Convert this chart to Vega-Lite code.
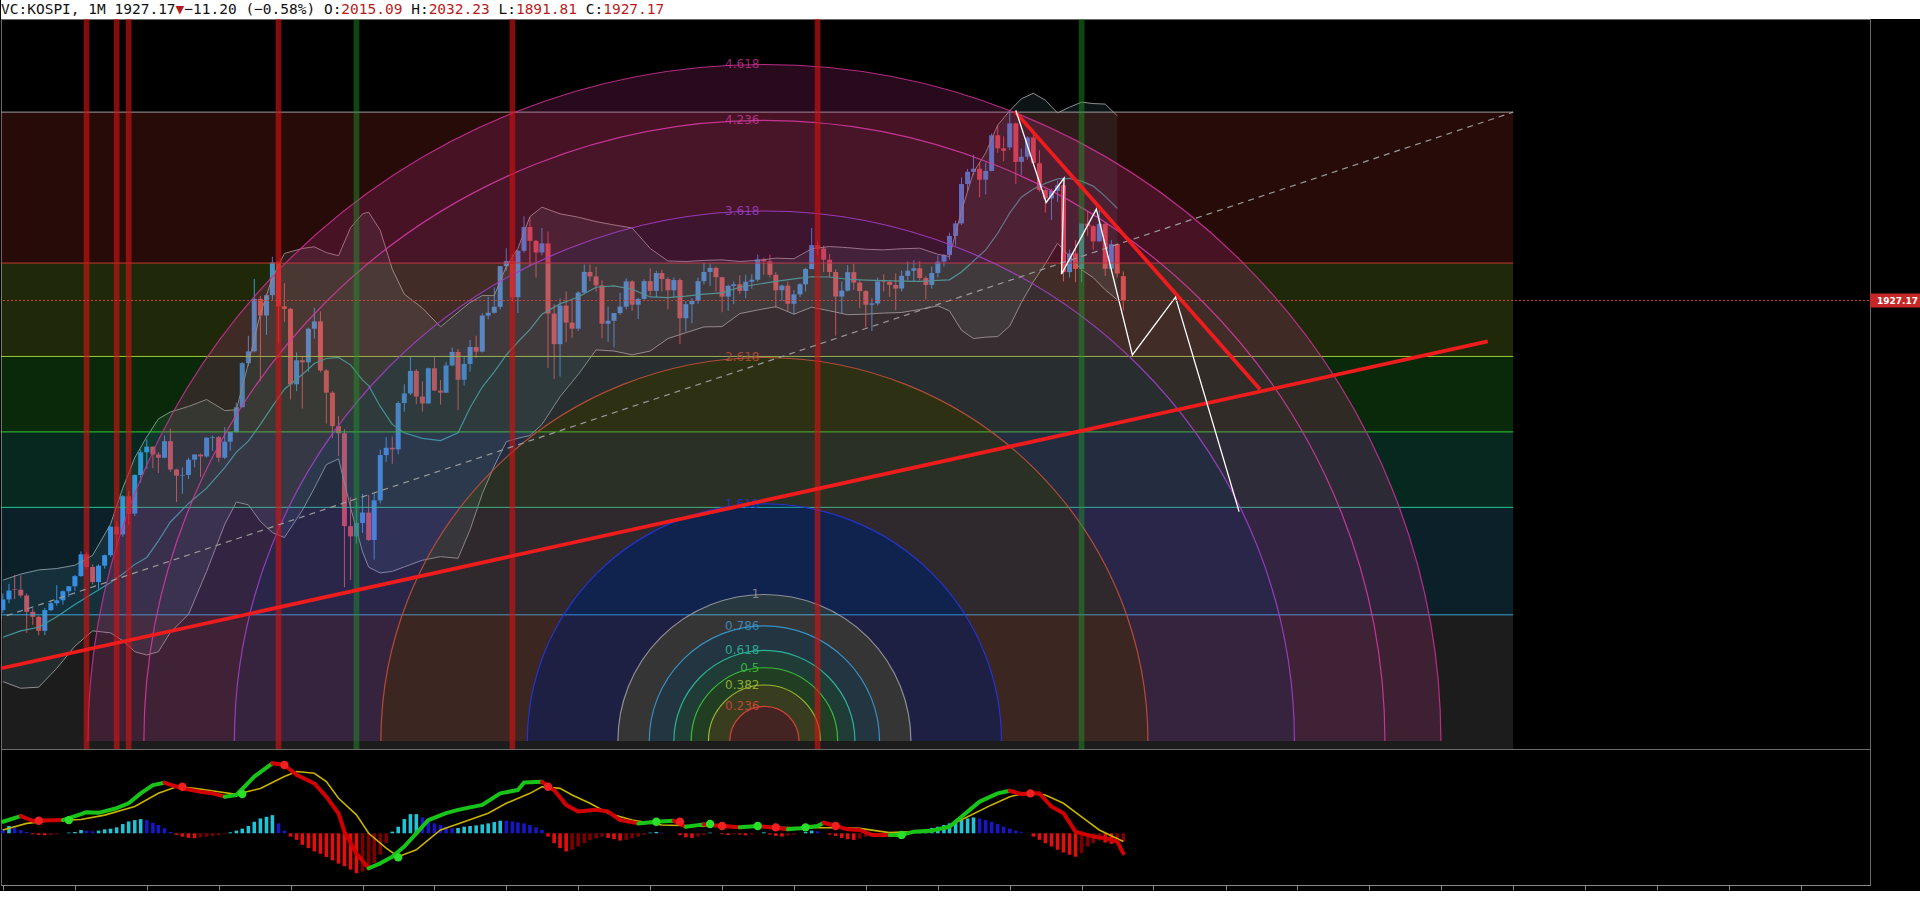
{
  "$schema": "https://vega.github.io/schema/vega-lite/v6.json",
  "background": "#000000",
  "padding": 0,
  "spacing": 0,
  "bounds": "flush",
  "config": {"view": {"stroke": null}, "font": "DejaVu Sans"},
  "datasets": {
    "head": [
      {"t": "VC:KOSPI, 1M 1927.17", "i": 0, "ink": "k"},
      {"t": "▼", "i": 20, "ink": "r"},
      {"t": "−11.20 (−0.58%) O:", "i": 21, "ink": "k"},
      {"t": "2015.09", "i": 39, "ink": "r"},
      {"t": "H:", "i": 47, "ink": "k"},
      {"t": "2032.23", "i": 49, "ink": "r"},
      {"t": "L:", "i": 57, "ink": "k"},
      {"t": "1891.81", "i": 59, "ink": "r"},
      {"t": "C:", "i": 67, "ink": "k"},
      {"t": "1927.17", "i": 69, "ink": "r"}
    ],
    "ohlc": [
      {"d":"2004-01","o":810.7,"h":870,"l":800,"c":848.5},
      {"d":"2004-02","o":848.5,"h":905,"l":835,"c":880.5},
      {"d":"2004-03","o":885,"h":937,"l":850,"c":883.5},
      {"d":"2004-04","o":883.5,"h":936,"l":855,"c":862.8},
      {"d":"2004-05","o":862.8,"h":870,"l":728,"c":803.8},
      {"d":"2004-06","o":803.8,"h":816,"l":757,"c":785.8},
      {"d":"2004-07","o":785.8,"h":790,"l":719,"c":735.3},
      {"d":"2004-08","o":735.3,"h":818,"l":720,"c":810},
      {"d":"2004-09","o":810,"h":845,"l":806,"c":835.1},
      {"d":"2004-10","o":835.1,"h":900,"l":826,"c":845.2},
      {"d":"2004-11","o":845.2,"h":881,"l":830,"c":878.1},
      {"d":"2004-12","o":878.1,"h":896,"l":857,"c":895.9},
      {"d":"2005-01","o":895.9,"h":937,"l":880,"c":932.7},
      {"d":"2005-02","o":932.7,"h":1022,"l":930,"c":1011.4},
      {"d":"2005-03","o":1011.4,"h":1020,"l":960,"c":965.7},
      {"d":"2005-04","o":965.7,"h":975,"l":903,"c":911.3},
      {"d":"2005-05","o":911.3,"h":975,"l":887,"c":970.2},
      {"d":"2005-06","o":970.2,"h":1010,"l":960,"c":1008.2},
      {"d":"2005-07","o":1008.2,"h":1112,"l":1002,"c":1111.3},
      {"d":"2005-08","o":1111.3,"h":1130,"l":1040,"c":1083.3},
      {"d":"2005-09","o":1083.3,"h":1225,"l":1075,"c":1221},
      {"d":"2005-10","o":1221,"h":1240,"l":1118,"c":1158.1},
      {"d":"2005-11","o":1158.1,"h":1300,"l":1150,"c":1297.4},
      {"d":"2005-12","o":1297.4,"h":1390,"l":1270,"c":1379.4},
      {"d":"2006-01","o":1379.4,"h":1426,"l":1320,"c":1399.8},
      {"d":"2006-02","o":1399.8,"h":1400,"l":1322,"c":1371.6},
      {"d":"2006-03","o":1371.6,"h":1380,"l":1305,"c":1359.6},
      {"d":"2006-04","o":1359.6,"h":1440,"l":1358,"c":1419.7},
      {"d":"2006-05","o":1419.7,"h":1465,"l":1309,"c":1317.7},
      {"d":"2006-06","o":1317.7,"h":1320,"l":1200,"c":1295.2},
      {"d":"2006-07","o":1295.2,"h":1325,"l":1230,"c":1297.8},
      {"d":"2006-08","o":1297.8,"h":1360,"l":1283,"c":1352.7},
      {"d":"2006-09","o":1352.7,"h":1373,"l":1325,"c":1371.4},
      {"d":"2006-10","o":1371.4,"h":1375,"l":1290,"c":1364.6},
      {"d":"2006-11","o":1364.6,"h":1433,"l":1360,"c":1432.2},
      {"d":"2006-12","o":1432.2,"h":1440,"l":1385,"c":1434.5},
      {"d":"2007-01","o":1434.5,"h":1438,"l":1345,"c":1360.2},
      {"d":"2007-02","o":1360.2,"h":1470,"l":1355,"c":1417.9},
      {"d":"2007-03","o":1417.9,"h":1453,"l":1385,"c":1452.6},
      {"d":"2007-04","o":1452.6,"h":1558,"l":1450,"c":1542.2},
      {"d":"2007-05","o":1542.2,"h":1705,"l":1542,"c":1700.9},
      {"d":"2007-06","o":1700.9,"h":1800,"l":1690,"c":1743.6},
      {"d":"2007-07","o":1743.6,"h":2005,"l":1740,"c":1933.3},
      {"d":"2007-08","o":1933.3,"h":1944,"l":1638,"c":1873.2},
      {"d":"2007-09","o":1873.2,"h":1950,"l":1803,"c":1946.5},
      {"d":"2007-10","o":1946.5,"h":2085,"l":1930,"c":2064.9},
      {"d":"2007-11","o":2064.9,"h":2070,"l":1772,"c":1906},
      {"d":"2007-12","o":1906,"h":1990,"l":1850,"c":1897.1},
      {"d":"2008-01","o":1897.1,"h":1900,"l":1570,"c":1624.7},
      {"d":"2008-02","o":1624.7,"h":1740,"l":1600,"c":1711.6},
      {"d":"2008-03","o":1711.6,"h":1727,"l":1537,"c":1704},
      {"d":"2008-04","o":1704,"h":1830,"l":1670,"c":1825.5},
      {"d":"2008-05","o":1825.5,"h":1901,"l":1790,"c":1852},
      {"d":"2008-06","o":1852,"h":1888,"l":1668,"c":1674.9},
      {"d":"2008-07","o":1674.9,"h":1680,"l":1483,"c":1594.7},
      {"d":"2008-08","o":1594.7,"h":1600,"l":1431,"c":1474.2},
      {"d":"2008-09","o":1474.2,"h":1510,"l":1366,"c":1448.1},
      {"d":"2008-10","o":1448.1,"h":1463,"l":892,"c":1113.1},
      {"d":"2008-11","o":1113.1,"h":1217,"l":919,"c":1076.1},
      {"d":"2008-12","o":1076.1,"h":1203,"l":1050,"c":1124.5},
      {"d":"2009-01","o":1124.5,"h":1229,"l":1088,"c":1162.1},
      {"d":"2009-02","o":1162.1,"h":1225,"l":1060,"c":1063},
      {"d":"2009-03","o":1063,"h":1231,"l":992,"c":1206.3},
      {"d":"2009-04","o":1206.3,"h":1389,"l":1195,"c":1369.4},
      {"d":"2009-05","o":1369.4,"h":1434,"l":1345,"c":1395.9},
      {"d":"2009-06","o":1395.9,"h":1436,"l":1338,"c":1390.1},
      {"d":"2009-07","o":1390.1,"h":1564,"l":1373,"c":1557.3},
      {"d":"2009-08","o":1557.3,"h":1625,"l":1526,"c":1591.9},
      {"d":"2009-09","o":1591.9,"h":1723,"l":1586,"c":1673.1},
      {"d":"2009-10","o":1673.1,"h":1680,"l":1553,"c":1580.7},
      {"d":"2009-11","o":1580.7,"h":1635,"l":1526,"c":1555.6},
      {"d":"2009-12","o":1555.6,"h":1685,"l":1555,"c":1682.8},
      {"d":"2010-01","o":1682.8,"h":1723,"l":1600,"c":1602.4},
      {"d":"2010-02","o":1602.4,"h":1640,"l":1552,"c":1594.6},
      {"d":"2010-03","o":1594.6,"h":1705,"l":1594,"c":1692.9},
      {"d":"2010-04","o":1692.9,"h":1757,"l":1690,"c":1741.6},
      {"d":"2010-05","o":1741.6,"h":1752,"l":1532,"c":1641.3},
      {"d":"2010-06","o":1641.3,"h":1728,"l":1620,"c":1698.3},
      {"d":"2010-07","o":1698.3,"h":1785,"l":1670,"c":1759.3},
      {"d":"2010-08","o":1759.3,"h":1800,"l":1720,"c":1742.8},
      {"d":"2010-09","o":1742.8,"h":1880,"l":1740,"c":1872.8},
      {"d":"2010-10","o":1872.8,"h":1940,"l":1860,"c":1883},
      {"d":"2010-11","o":1883,"h":1975,"l":1880,"c":1904.6},
      {"d":"2010-12","o":1904.6,"h":2052,"l":1895,"c":2051},
      {"d":"2011-01","o":2051,"h":2116,"l":2035,"c":2069.7},
      {"d":"2011-02","o":2069.7,"h":2095,"l":1923,"c":1939.3},
      {"d":"2011-03","o":1939.3,"h":2110,"l":1882,"c":2106.7},
      {"d":"2011-04","o":2106.7,"h":2231,"l":2100,"c":2192.4},
      {"d":"2011-05","o":2192.4,"h":2229,"l":2050,"c":2142.5},
      {"d":"2011-06","o":2142.5,"h":2146,"l":2010,"c":2100.7},
      {"d":"2011-07","o":2100.7,"h":2189,"l":2090,"c":2133.2},
      {"d":"2011-08","o":2133.2,"h":2176,"l":1684,"c":1880.1},
      {"d":"2011-09","o":1880.1,"h":1914,"l":1644,"c":1769.7},
      {"d":"2011-10","o":1769.7,"h":1935,"l":1653,"c":1909},
      {"d":"2011-11","o":1909,"h":1960,"l":1777,"c":1847.5},
      {"d":"2011-12","o":1847.5,"h":1930,"l":1793,"c":1825.7},
      {"d":"2012-01","o":1825.7,"h":1960,"l":1817,"c":1955.8},
      {"d":"2012-02","o":1955.8,"h":2057,"l":1950,"c":2030.3},
      {"d":"2012-03","o":2030.3,"h":2057,"l":1997,"c":2014},
      {"d":"2012-04","o":2014,"h":2049,"l":1960,"c":1982},
      {"d":"2012-05","o":1982,"h":2000,"l":1791,"c":1843.5},
      {"d":"2012-06","o":1843.5,"h":1905,"l":1778,"c":1854},
      {"d":"2012-07","o":1854,"h":1880,"l":1758,"c":1882},
      {"d":"2012-08","o":1882,"h":1955,"l":1875,"c":1905.1},
      {"d":"2012-09","o":1905.1,"h":2007,"l":1895,"c":1996.2},
      {"d":"2012-10","o":1996.2,"h":2000,"l":1890,"c":1912.1},
      {"d":"2012-11","o":1912.1,"h":1937,"l":1860,"c":1932.9},
      {"d":"2012-12","o":1932.9,"h":2004,"l":1930,"c":1997.1},
      {"d":"2013-01","o":1997.1,"h":2043,"l":1945,"c":1961.9},
      {"d":"2013-02","o":1961.9,"h":2035,"l":1940,"c":2026.5},
      {"d":"2013-03","o":2026.5,"h":2037,"l":1960,"c":2004.9},
      {"d":"2013-04","o":2004.9,"h":2011,"l":1895,"c":1964},
      {"d":"2013-05","o":1964,"h":2010,"l":1940,"c":2001.1},
      {"d":"2013-06","o":2001.1,"h":2008,"l":1770,"c":1863.3},
      {"d":"2013-07","o":1863.3,"h":1925,"l":1815,"c":1914},
      {"d":"2013-08","o":1914,"h":1935,"l":1845,"c":1926.4},
      {"d":"2013-09","o":1926.4,"h":2010,"l":1915,"c":1997},
      {"d":"2013-10","o":1997,"h":2063,"l":1985,"c":2030.1},
      {"d":"2013-11","o":2030.1,"h":2060,"l":1980,"c":2044.9},
      {"d":"2013-12","o":2044.9,"h":2050,"l":1960,"c":2011.3},
      {"d":"2014-01","o":2011.3,"h":2012,"l":1885,"c":1941.2},
      {"d":"2014-02","o":1941.2,"h":1985,"l":1890,"c":1980},
      {"d":"2014-03","o":1980,"h":1996,"l":1914,"c":1985.6},
      {"d":"2014-04","o":1985.6,"h":2018,"l":1950,"c":1961.8},
      {"d":"2014-05","o":1961.8,"h":2020,"l":1935,"c":1995},
      {"d":"2014-06","o":1995,"h":2022,"l":1970,"c":2002.2},
      {"d":"2014-07","o":2002.2,"h":2093,"l":1995,"c":2076.1},
      {"d":"2014-08","o":2076.1,"h":2082,"l":2020,"c":2068.5},
      {"d":"2014-09","o":2068.5,"h":2093,"l":2010,"c":2020.1},
      {"d":"2014-10","o":2020.1,"h":2030,"l":1900,"c":1964.4},
      {"d":"2014-11","o":1964.4,"h":1985,"l":1925,"c":1980.8},
      {"d":"2014-12","o":1980.8,"h":1995,"l":1890,"c":1915.6},
      {"d":"2015-01","o":1915.6,"h":1965,"l":1876,"c":1949.3},
      {"d":"2015-02","o":1949.3,"h":1990,"l":1940,"c":1985.8},
      {"d":"2015-03","o":1985.8,"h":2045,"l":1960,"c":2041},
      {"d":"2015-04","o":2041,"h":2189,"l":2040,"c":2127.2},
      {"d":"2015-05","o":2127.2,"h":2141,"l":2090,"c":2114.8},
      {"d":"2015-06","o":2114.8,"h":2125,"l":2030,"c":2074.2},
      {"d":"2015-07","o":2074.2,"h":2095,"l":2010,"c":2030.2},
      {"d":"2015-08","o":2030.2,"h":2040,"l":1800,"c":1941.5},
      {"d":"2015-09","o":1941.5,"h":1996,"l":1880,"c":1962.8},
      {"d":"2015-10","o":1962.8,"h":2055,"l":1960,"c":2029.5},
      {"d":"2015-11","o":2029.5,"h":2060,"l":1965,"c":1992},
      {"d":"2015-12","o":1992,"h":2002,"l":1900,"c":1961.3},
      {"d":"2016-01","o":1961.3,"h":1965,"l":1830,"c":1912.1},
      {"d":"2016-02","o":1912.1,"h":1935,"l":1817,"c":1916.7},
      {"d":"2016-03","o":1916.7,"h":2010,"l":1910,"c":1995.9},
      {"d":"2016-04","o":1995.9,"h":2022,"l":1960,"c":1994.2},
      {"d":"2016-05","o":1994.2,"h":2000,"l":1940,"c":1983.4},
      {"d":"2016-06","o":1983.4,"h":2025,"l":1892,"c":1970.4},
      {"d":"2016-07","o":1970.4,"h":2035,"l":1960,"c":2016.2},
      {"d":"2016-08","o":2016.2,"h":2068,"l":2000,"c":2034.7},
      {"d":"2016-09","o":2034.7,"h":2073,"l":1995,"c":2043.6},
      {"d":"2016-10","o":2043.6,"h":2070,"l":2000,"c":2008.2},
      {"d":"2016-11","o":2008.2,"h":2015,"l":1931,"c":1983.5},
      {"d":"2016-12","o":1983.5,"h":2050,"l":1970,"c":2026.5},
      {"d":"2017-01","o":2026.5,"h":2090,"l":2010,"c":2067.6},
      {"d":"2017-02","o":2067.6,"h":2095,"l":2050,"c":2091.6},
      {"d":"2017-03","o":2091.6,"h":2172,"l":2075,"c":2160.2},
      {"d":"2017-04","o":2160.2,"h":2215,"l":2125,"c":2205.4},
      {"d":"2017-05","o":2205.4,"h":2371,"l":2200,"c":2347.4},
      {"d":"2017-06","o":2347.4,"h":2402,"l":2320,"c":2391.8},
      {"d":"2017-07","o":2391.8,"h":2453,"l":2380,"c":2402.7},
      {"d":"2017-08","o":2402.7,"h":2425,"l":2300,"c":2363.2},
      {"d":"2017-09","o":2363.2,"h":2425,"l":2310,"c":2394.5},
      {"d":"2017-10","o":2394.5,"h":2530,"l":2394,"c":2523.4},
      {"d":"2017-11","o":2523.4,"h":2561,"l":2460,"c":2476.4},
      {"d":"2017-12","o":2476.4,"h":2520,"l":2430,"c":2467.5},
      {"d":"2018-01","o":2479.7,"h":2607.1,"l":2470,"c":2566.5},
      {"d":"2018-02","o":2566.5,"h":2570,"l":2347,"c":2427.4},
      {"d":"2018-03","o":2427.4,"h":2476,"l":2380,"c":2445.9},
      {"d":"2018-04","o":2445.9,"h":2520,"l":2435,"c":2515.4},
      {"d":"2018-05","o":2515.4,"h":2532,"l":2423,"c":2423},
      {"d":"2018-06","o":2423,"h":2470,"l":2320,"c":2326.1},
      {"d":"2018-07","o":2326.1,"h":2330,"l":2245,"c":2295.3},
      {"d":"2018-08","o":2295.3,"h":2330,"l":2218,"c":2322.9},
      {"d":"2018-09","o":2322.9,"h":2360,"l":2283,"c":2343.1},
      {"d":"2018-10","o":2343.1,"h":2350,"l":1996,"c":2029.7},
      {"d":"2018-11","o":2029.7,"h":2111,"l":2010,"c":2096.9},
      {"d":"2018-12","o":2096.9,"h":2145,"l":1993,"c":2041},
      {"d":"2019-01","o":2041,"h":2205,"l":1993,"c":2204.9},
      {"d":"2019-02","o":2204.9,"h":2250,"l":2160,"c":2195.4},
      {"d":"2019-03","o":2195.4,"h":2200,"l":2110,"c":2140.7},
      {"d":"2019-04","o":2140.7,"h":2253,"l":2140,"c":2203.6},
      {"d":"2019-05","o":2203.6,"h":2210,"l":2016,"c":2041.7},
      {"d":"2019-06","o":2041.7,"h":2145,"l":2030,"c":2130.6},
      {"d":"2019-07","o":2130.6,"h":2135,"l":2011,"c":2024.6},
      {"d":"2019-08","o":2015.1,"h":2032.2,"l":1891.8,"c":1927.2}
    ],
    "bb": [
      {"d":"2004-01","up":918,"mid":712,"lo":552},
      {"d":"2004-04","up":940,"mid":735,"lo":528},
      {"d":"2004-07","up":955,"mid":748,"lo":532},
      {"d":"2004-10","up":960,"mid":786,"lo":600},
      {"d":"2005-01","up":972,"mid":830,"lo":680},
      {"d":"2005-04","up":1008,"mid":870,"lo":735},
      {"d":"2005-07","up":1120,"mid":910,"lo":728},
      {"d":"2005-09","up":1250,"mid":940,"lo":700},
      {"d":"2005-11","up":1360,"mid":975,"lo":660},
      {"d":"2006-01","up":1435,"mid":1000,"lo":648},
      {"d":"2006-03","up":1500,"mid":1060,"lo":660},
      {"d":"2006-05","up":1525,"mid":1128,"lo":730},
      {"d":"2006-08","up":1545,"mid":1195,"lo":795},
      {"d":"2006-11","up":1570,"mid":1250,"lo":950},
      {"d":"2007-02","up":1530,"mid":1324,"lo":1120},
      {"d":"2007-04","up":1533,"mid":1380,"lo":1200},
      {"d":"2007-06","up":1700,"mid":1420,"lo":1190},
      {"d":"2007-08","up":1880,"mid":1480,"lo":1130},
      {"d":"2007-10","up":2010,"mid":1545,"lo":1090},
      {"d":"2007-12","up":2097,"mid":1607,"lo":1072},
      {"d":"2008-03","up":2115,"mid":1660,"lo":1170},
      {"d":"2008-05","up":2121,"mid":1700,"lo":1250},
      {"d":"2008-07","up":2100,"mid":1718,"lo":1335},
      {"d":"2008-09","up":2089,"mid":1722,"lo":1356},
      {"d":"2008-11","up":2190,"mid":1695,"lo":1180},
      {"d":"2009-01","up":2240,"mid":1640,"lo":1020},
      {"d":"2009-02","up":2246,"mid":1620,"lo":965},
      {"d":"2009-04","up":2180,"mid":1545,"lo":944},
      {"d":"2009-06","up":2040,"mid":1480,"lo":950},
      {"d":"2009-08","up":1950,"mid":1450,"lo":966},
      {"d":"2009-11","up":1900,"mid":1430,"lo":990},
      {"d":"2010-02","up":1832,"mid":1422,"lo":1003},
      {"d":"2010-05","up":1885,"mid":1450,"lo":997},
      {"d":"2010-07","up":1920,"mid":1540,"lo":1100},
      {"d":"2010-09","up":1945,"mid":1615,"lo":1230},
      {"d":"2010-11","up":1945,"mid":1670,"lo":1330},
      {"d":"2011-01","up":2050,"mid":1731,"lo":1418},
      {"d":"2011-03","up":2115,"mid":1778,"lo":1430},
      {"d":"2011-05","up":2230,"mid":1822,"lo":1440},
      {"d":"2011-07","up":2264,"mid":1878,"lo":1480},
      {"d":"2011-10","up":2240,"mid":1915,"lo":1580},
      {"d":"2012-01","up":2228,"mid":1940,"lo":1660},
      {"d":"2012-04","up":2212,"mid":1975,"lo":1749},
      {"d":"2012-07","up":2200,"mid":1980,"lo":1745},
      {"d":"2012-10","up":2189,"mid":1968,"lo":1731},
      {"d":"2013-01","up":2115,"mid":1940,"lo":1745},
      {"d":"2013-04","up":2070,"mid":1938,"lo":1790},
      {"d":"2013-07","up":2068,"mid":1943,"lo":1811},
      {"d":"2013-10","up":2072,"mid":1950,"lo":1832},
      {"d":"2014-01","up":2074,"mid":1955,"lo":1833},
      {"d":"2014-04","up":2068,"mid":1975,"lo":1880},
      {"d":"2014-07","up":2072,"mid":1986,"lo":1893},
      {"d":"2014-10","up":2080,"mid":1996,"lo":1905},
      {"d":"2015-01","up":2078,"mid":2005,"lo":1878},
      {"d":"2015-04","up":2114,"mid":2013,"lo":1903},
      {"d":"2015-07","up":2122,"mid":2012,"lo":1890},
      {"d":"2015-10","up":2118,"mid":2004,"lo":1876},
      {"d":"2016-01","up":2112,"mid":2001,"lo":1878},
      {"d":"2016-04","up":2110,"mid":1999,"lo":1882},
      {"d":"2016-07","up":2114,"mid":1997,"lo":1884},
      {"d":"2016-10","up":2116,"mid":1996,"lo":1895},
      {"d":"2017-01","up":2094,"mid":2000,"lo":1908},
      {"d":"2017-03","up":2086,"mid":2002,"lo":1890},
      {"d":"2017-05","up":2250,"mid":2030,"lo":1820},
      {"d":"2017-07","up":2390,"mid":2070,"lo":1790},
      {"d":"2017-09","up":2460,"mid":2110,"lo":1795},
      {"d":"2017-11","up":2560,"mid":2170,"lo":1797},
      {"d":"2018-01","up":2612,"mid":2243,"lo":1835},
      {"d":"2018-03","up":2655,"mid":2300,"lo":1920},
      {"d":"2018-05","up":2675,"mid":2330,"lo":1995},
      {"d":"2018-07","up":2650,"mid":2350,"lo":2060},
      {"d":"2018-09","up":2604,"mid":2366,"lo":2134},
      {"d":"2018-11","up":2625,"mid":2368,"lo":2085},
      {"d":"2019-01","up":2643,"mid":2358,"lo":2038},
      {"d":"2019-03","up":2638,"mid":2340,"lo":2010},
      {"d":"2019-05","up":2636,"mid":2303,"lo":1966},
      {"d":"2019-07","up":2594,"mid":2260,"lo":1930}
    ],
    "fib": [
      {"d":"2003-06","d2":"2025-01","lvl":"0","p0":2607.1,"p":2607.1},
      {"d":"2003-06","d2":"2025-01","lvl":"0.236","p0":2607.1,"p":2062.4},
      {"d":"2003-06","d2":"2025-01","lvl":"0.382","p0":2062.4,"p":1725.4},
      {"d":"2003-06","d2":"2025-01","lvl":"0.5","p0":1725.4,"p":1453.1},
      {"d":"2003-06","d2":"2025-01","lvl":"0.618","p0":1453.1,"p":1180.8},
      {"d":"2003-06","d2":"2025-01","lvl":"0.786","p0":1180.8,"p":793},
      {"d":"2003-06","d2":"2025-01","lvl":"1","p0":793,"p":299.1}
    ],
    "arcs": [
      {"d":"2014-08-04","p":337.7,"lvl":"0.236","r":0.236,"r0":0},
      {"d":"2014-08-04","p":337.7,"lvl":"0.382","r":0.382,"r0":0.236},
      {"d":"2014-08-04","p":337.7,"lvl":"0.5","r":0.5,"r0":0.382},
      {"d":"2014-08-04","p":337.7,"lvl":"0.618","r":0.618,"r0":0.5},
      {"d":"2014-08-04","p":337.7,"lvl":"0.786","r":0.786,"r0":0.618},
      {"d":"2014-08-04","p":337.7,"lvl":"1","r":1,"r0":0.786},
      {"d":"2014-08-04","p":337.7,"lvl":"1.618","r":1.618,"r0":1},
      {"d":"2014-08-04","p":337.7,"lvl":"2.618","r":2.618,"r0":1.618},
      {"d":"2014-08-04","p":337.7,"lvl":"3.618","r":3.618,"r0":2.618},
      {"d":"2014-08-04","p":337.7,"lvl":"4.236","r":4.236,"r0":3.618},
      {"d":"2014-08-04","p":337.7,"lvl":"4.618","r":4.618,"r0":4.236}
    ],
    "bands": [
      {"d":"2005-03","k":"r"},{"d":"2005-08","k":"r"},{"d":"2005-10","k":"r"},
      {"d":"2007-11","k":"r"},{"d":"2011-02","k":"r"},{"d":"2015-05","k":"r"},
      {"d":"2008-12","k":"g"},{"d":"2019-01","k":"g"}
    ],
    "diag": [
      {"d":"2003-05-01","p":727},
      {"d":"2025-01-01","p":2607.1}
    ],
    "trend": [
      {"id":"a","d":"2003-05-01","p":562.8},
      {"id":"a","d":"2024-08-25","p":1779.5},
      {"id":"b","d":"2018-01-26","p":2610.5},
      {"id":"b","d":"2021-06-25","p":1607}
    ],
    "zig": [
      {"n":1,"d":"2018-02-01","p":2613},
      {"n":2,"d":"2018-07-05","p":2281},
      {"n":3,"d":"2018-10-04","p":2369},
      {"n":4,"d":"2018-09-21","p":2022.5},
      {"n":5,"d":"2019-03-17","p":2257},
      {"n":6,"d":"2019-09-16","p":1731},
      {"n":7,"d":"2020-04-22","p":1939.4},
      {"n":8,"d":"2021-03-11","p":1165.5}
    ],
    "last": [
      {"d":"2003-01","d2":"2030-06","p":1927.17}
    ],
    "hist": [
      {"d":"2004-01","h":12,"k":"b"},{"d":"2004-02","h":22,"k":"c"},{"d":"2004-03","h":18,"k":"b"},
      {"d":"2004-04","h":10,"k":"b"},{"d":"2004-05","h":4,"k":"b"},{"d":"2004-06","h":-3,"k":"r"},
      {"d":"2004-07","h":-5,"k":"r"},{"d":"2004-08","h":-6,"k":"r"},{"d":"2004-09","h":-5,"k":"d"},
      {"d":"2004-10","h":-3,"k":"d"},{"d":"2004-12","h":2,"k":"c"},{"d":"2005-01","h":4,"k":"c"},
      {"d":"2005-02","h":10,"k":"c"},{"d":"2005-03","h":8,"k":"b"},{"d":"2005-04","h":6,"k":"b"},
      {"d":"2005-05","h":8,"k":"c"},{"d":"2005-06","h":12,"k":"c"},{"d":"2005-07","h":14,"k":"c"},
      {"d":"2005-08","h":18,"k":"c"},{"d":"2005-09","h":28,"k":"c"},{"d":"2005-10","h":36,"k":"c"},
      {"d":"2005-11","h":40,"k":"c"},{"d":"2005-12","h":43,"k":"c"},{"d":"2006-01","h":40,"k":"b"},
      {"d":"2006-02","h":32,"k":"b"},{"d":"2006-03","h":25,"k":"b"},{"d":"2006-04","h":15,"k":"b"},
      {"d":"2006-05","h":4,"k":"b"},{"d":"2006-06","h":-5,"k":"r"},{"d":"2006-07","h":-10,"k":"r"},
      {"d":"2006-08","h":-14,"k":"r"},{"d":"2006-09","h":-15,"k":"r"},{"d":"2006-10","h":-12,"k":"d"},
      {"d":"2006-11","h":-10,"k":"d"},{"d":"2006-12","h":-8,"k":"d"},{"d":"2007-01","h":-6,"k":"d"},
      {"d":"2007-02","h":-2,"k":"d"},{"d":"2007-03","h":3,"k":"c"},{"d":"2007-04","h":8,"k":"c"},
      {"d":"2007-05","h":14,"k":"c"},{"d":"2007-06","h":22,"k":"c"},{"d":"2007-07","h":35,"k":"c"},
      {"d":"2007-08","h":45,"k":"c"},{"d":"2007-09","h":50,"k":"c"},{"d":"2007-10","h":55,"k":"c"},
      {"d":"2007-11","h":30,"k":"b"},{"d":"2007-12","h":8,"k":"b"},{"d":"2008-01","h":-10,"k":"r"},
      {"d":"2008-02","h":-20,"k":"r"},{"d":"2008-03","h":-35,"k":"r"},{"d":"2008-04","h":-45,"k":"r"},
      {"d":"2008-05","h":-55,"k":"r"},{"d":"2008-06","h":-62,"k":"r"},{"d":"2008-07","h":-72,"k":"r"},
      {"d":"2008-08","h":-82,"k":"r"},{"d":"2008-09","h":-92,"k":"r"},{"d":"2008-10","h":-100,"k":"r"},
      {"d":"2008-11","h":-110,"k":"r"},{"d":"2008-12","h":-121,"k":"r"},{"d":"2009-01","h":-116,"k":"d"},
      {"d":"2009-02","h":-105,"k":"d"},{"d":"2009-03","h":-90,"k":"d"},{"d":"2009-04","h":-65,"k":"d"},
      {"d":"2009-05","h":-30,"k":"d"},{"d":"2009-06","h":5,"k":"c"},{"d":"2009-07","h":20,"k":"c"},
      {"d":"2009-08","h":43,"k":"c"},{"d":"2009-09","h":58,"k":"c"},{"d":"2009-10","h":58,"k":"c"},
      {"d":"2009-11","h":48,"k":"b"},{"d":"2009-12","h":40,"k":"b"},{"d":"2010-01","h":30,"k":"b"},
      {"d":"2010-02","h":25,"k":"b"},{"d":"2010-03","h":20,"k":"b"},{"d":"2010-04","h":15,"k":"b"},
      {"d":"2010-05","h":16,"k":"c"},{"d":"2010-06","h":20,"k":"c"},{"d":"2010-07","h":22,"k":"c"},
      {"d":"2010-08","h":24,"k":"c"},{"d":"2010-09","h":27,"k":"c"},{"d":"2010-10","h":30,"k":"c"},
      {"d":"2010-11","h":34,"k":"c"},{"d":"2010-12","h":38,"k":"c"},{"d":"2011-01","h":38,"k":"b"},
      {"d":"2011-02","h":36,"k":"b"},{"d":"2011-03","h":33,"k":"b"},{"d":"2011-04","h":30,"k":"b"},
      {"d":"2011-05","h":25,"k":"b"},{"d":"2011-06","h":18,"k":"b"},{"d":"2011-07","h":10,"k":"b"},
      {"d":"2011-08","h":-10,"k":"r"},{"d":"2011-09","h":-30,"k":"r"},{"d":"2011-10","h":-45,"k":"r"},
      {"d":"2011-11","h":-55,"k":"r"},{"d":"2011-12","h":-50,"k":"d"},{"d":"2012-01","h":-40,"k":"d"},
      {"d":"2012-02","h":-30,"k":"d"},{"d":"2012-03","h":-20,"k":"d"},{"d":"2012-04","h":-15,"k":"d"},
      {"d":"2012-05","h":-10,"k":"d"},{"d":"2012-06","h":-14,"k":"r"},{"d":"2012-07","h":-18,"k":"r"},
      {"d":"2012-08","h":-22,"k":"r"},{"d":"2012-09","h":-20,"k":"d"},{"d":"2012-10","h":-15,"k":"d"},
      {"d":"2012-11","h":-10,"k":"d"},{"d":"2012-12","h":-5,"k":"d"},{"d":"2013-01","h":2,"k":"c"},
      {"d":"2013-02","h":4,"k":"c"},{"d":"2013-03","h":2,"k":"b"},{"d":"2013-06","h":-6,"k":"r"},
      {"d":"2013-07","h":-12,"k":"r"},{"d":"2013-08","h":-14,"k":"r"},{"d":"2013-09","h":-10,"k":"d"},
      {"d":"2013-10","h":-5,"k":"d"},{"d":"2013-11","h":2,"k":"c"},{"d":"2014-01","h":-3,"k":"r"},
      {"d":"2014-02","h":-5,"k":"r"},{"d":"2014-03","h":-3,"k":"d"},{"d":"2014-04","h":-4,"k":"r"},
      {"d":"2014-05","h":-6,"k":"r"},{"d":"2014-06","h":-4,"k":"d"},{"d":"2014-08","h":3,"k":"c"},
      {"d":"2014-09","h":-4,"k":"r"},{"d":"2014-10","h":-8,"k":"r"},{"d":"2014-11","h":-10,"k":"r"},
      {"d":"2014-12","h":-7,"k":"d"},{"d":"2015-01","h":-4,"k":"d"},{"d":"2015-03","h":4,"k":"c"},
      {"d":"2015-04","h":8,"k":"c"},{"d":"2015-05","h":6,"k":"b"},{"d":"2015-07","h":-4,"k":"r"},
      {"d":"2015-08","h":-8,"k":"r"},{"d":"2015-09","h":-14,"k":"r"},{"d":"2015-10","h":-18,"k":"r"},
      {"d":"2015-11","h":-20,"k":"r"},{"d":"2015-12","h":-16,"k":"d"},{"d":"2016-01","h":-10,"k":"d"},
      {"d":"2016-02","h":-6,"k":"d"},{"d":"2016-03","h":-4,"k":"d"},{"d":"2016-04","h":-3,"k":"d"},
      {"d":"2016-05","h":-2,"k":"d"},{"d":"2016-07","h":2,"k":"c"},{"d":"2016-08","h":4,"k":"c"},
      {"d":"2016-09","h":6,"k":"c"},{"d":"2016-10","h":9,"k":"c"},{"d":"2016-11","h":12,"k":"c"},
      {"d":"2016-12","h":16,"k":"c"},{"d":"2017-01","h":20,"k":"c"},{"d":"2017-02","h":25,"k":"c"},
      {"d":"2017-03","h":30,"k":"c"},{"d":"2017-04","h":35,"k":"c"},{"d":"2017-05","h":40,"k":"c"},
      {"d":"2017-06","h":45,"k":"c"},{"d":"2017-07","h":48,"k":"c"},{"d":"2017-08","h":45,"k":"b"},
      {"d":"2017-09","h":40,"k":"b"},{"d":"2017-10","h":35,"k":"b"},{"d":"2017-11","h":28,"k":"b"},
      {"d":"2017-12","h":20,"k":"b"},{"d":"2018-01","h":14,"k":"b"},{"d":"2018-02","h":8,"k":"b"},
      {"d":"2018-03","h":3,"k":"b"},{"d":"2018-05","h":-10,"k":"r"},{"d":"2018-06","h":-20,"k":"r"},
      {"d":"2018-07","h":-30,"k":"r"},{"d":"2018-08","h":-40,"k":"r"},{"d":"2018-09","h":-50,"k":"r"},
      {"d":"2018-10","h":-58,"k":"r"},{"d":"2018-11","h":-65,"k":"r"},{"d":"2018-12","h":-71,"k":"r"},
      {"d":"2019-01","h":-60,"k":"d"},{"d":"2019-02","h":-40,"k":"d"},{"d":"2019-03","h":-30,"k":"d"},
      {"d":"2019-04","h":-22,"k":"d"},{"d":"2019-05","h":-28,"k":"r"},{"d":"2019-06","h":-32,"k":"r"},
      {"d":"2019-07","h":-30,"k":"d"},{"d":"2019-08","h":-25,"k":"d"}
    ],
    "signal": [
      {"d":"2004-01","v":10},{"d":"2004-05","v":30},{"d":"2004-09","v":38},{"d":"2005-02","v":42},
      {"d":"2005-06","v":55},{"d":"2005-11","v":81},{"d":"2006-03","v":121},{"d":"2006-06","v":141},
      {"d":"2006-09","v":136},{"d":"2007-01","v":126},{"d":"2007-04","v":118},{"d":"2007-08","v":136},
      {"d":"2007-12","v":172},{"d":"2008-02","v":187},{"d":"2008-05","v":182},{"d":"2008-07","v":157},
      {"d":"2008-09","v":106},{"d":"2008-12","v":56},{"d":"2009-02","v":0},{"d":"2009-05","v":-45},
      {"d":"2009-07","v":-71},{"d":"2009-10","v":-50},{"d":"2009-12","v":-20},{"d":"2010-02","v":10},
      {"d":"2010-06","v":35},{"d":"2010-10","v":61},{"d":"2011-01","v":91},{"d":"2011-05","v":121},
      {"d":"2011-07","v":141},{"d":"2011-10","v":136},{"d":"2011-12","v":116},{"d":"2012-03","v":91},
      {"d":"2012-06","v":61},{"d":"2012-10","v":40},{"d":"2013-03","v":25},{"d":"2013-09","v":22},
      {"d":"2014-03","v":20},{"d":"2014-09","v":18},{"d":"2015-03","v":17},{"d":"2015-09","v":17},
      {"d":"2015-12","v":15},{"d":"2016-05","v":2},{"d":"2016-09","v":5},{"d":"2017-02","v":15},
      {"d":"2017-06","v":50},{"d":"2017-10","v":86},{"d":"2018-01","v":111},{"d":"2018-04","v":123},
      {"d":"2018-07","v":116},{"d":"2018-10","v":91},{"d":"2019-01","v":50},{"d":"2019-04","v":10},
      {"d":"2019-08","v":-25}
    ],
    "macd": [
      {"s":1,"k":"g","d":"2004-01","v":35},{"s":1,"k":"g","d":"2004-04","v":52},
      {"s":2,"k":"r","d":"2004-04","v":52},{"s":2,"k":"r","d":"2004-06","v":38},{"s":2,"k":"r","d":"2004-11","v":40},
      {"s":3,"k":"g","d":"2004-11","v":40},{"s":3,"k":"g","d":"2005-02","v":58},{"s":3,"k":"g","d":"2005-03","v":64},
      {"s":3,"k":"g","d":"2005-05","v":62},{"s":3,"k":"g","d":"2005-08","v":76},{"s":3,"k":"g","d":"2005-10","v":91},
      {"s":3,"k":"g","d":"2005-12","v":121},{"s":3,"k":"g","d":"2006-02","v":146},{"s":3,"k":"g","d":"2006-04","v":153},
      {"s":4,"k":"r","d":"2006-04","v":153},{"s":4,"k":"r","d":"2006-07","v":136},{"s":4,"k":"r","d":"2006-10","v":126},
      {"s":4,"k":"r","d":"2006-12","v":121},{"s":4,"k":"r","d":"2007-02","v":111},
      {"s":5,"k":"g","d":"2007-02","v":111},{"s":5,"k":"g","d":"2007-04","v":116},{"s":5,"k":"g","d":"2007-07","v":172},
      {"s":5,"k":"g","d":"2007-10","v":212},
      {"s":6,"k":"r","d":"2007-10","v":212},{"s":6,"k":"r","d":"2007-12","v":207},{"s":6,"k":"r","d":"2008-02","v":177},
      {"s":6,"k":"r","d":"2008-05","v":151},{"s":6,"k":"r","d":"2008-07","v":111},{"s":6,"k":"r","d":"2008-09","v":60},
      {"s":6,"k":"r","d":"2008-10","v":5},{"s":6,"k":"r","d":"2008-12","v":-61},{"s":6,"k":"r","d":"2009-02","v":-106},
      {"s":7,"k":"g","d":"2009-02","v":-106},{"s":7,"k":"g","d":"2009-04","v":-91},{"s":7,"k":"g","d":"2009-06","v":-71},
      {"s":7,"k":"g","d":"2009-08","v":-40},{"s":7,"k":"g","d":"2009-10","v":0},{"s":7,"k":"g","d":"2009-12","v":40},
      {"s":7,"k":"g","d":"2010-03","v":61},{"s":7,"k":"g","d":"2010-05","v":71},{"s":7,"k":"g","d":"2010-09","v":86},
      {"s":7,"k":"g","d":"2010-12","v":121},{"s":7,"k":"g","d":"2011-03","v":131},{"s":7,"k":"g","d":"2011-04","v":154},
      {"s":7,"k":"g","d":"2011-07","v":156},
      {"s":8,"k":"r","d":"2011-07","v":156},{"s":8,"k":"r","d":"2011-09","v":131},{"s":8,"k":"r","d":"2011-11","v":86},
      {"s":8,"k":"r","d":"2012-01","v":66},{"s":8,"k":"r","d":"2012-04","v":71},{"s":8,"k":"r","d":"2012-06","v":66},
      {"s":8,"k":"r","d":"2012-08","v":40},{"s":8,"k":"r","d":"2012-11","v":30},
      {"s":9,"k":"g","d":"2012-11","v":30},{"s":9,"k":"g","d":"2013-02","v":35},{"s":9,"k":"g","d":"2013-05","v":38},
      {"s":10,"k":"r","d":"2013-05","v":38},{"s":10,"k":"r","d":"2013-07","v":20},
      {"s":11,"k":"g","d":"2013-07","v":20},{"s":11,"k":"g","d":"2013-10","v":27},
      {"s":12,"k":"r","d":"2013-10","v":27},{"s":12,"k":"r","d":"2014-01","v":22},{"s":12,"k":"r","d":"2014-04","v":18},
      {"s":13,"k":"g","d":"2014-04","v":18},{"s":13,"k":"g","d":"2014-07","v":22},
      {"s":14,"k":"r","d":"2014-07","v":22},{"s":14,"k":"r","d":"2014-09","v":18},{"s":14,"k":"r","d":"2014-12","v":12},
      {"s":15,"k":"g","d":"2014-12","v":12},{"s":15,"k":"g","d":"2015-02","v":15},{"s":15,"k":"g","d":"2015-05","v":22},
      {"s":15,"k":"g","d":"2015-06","v":32},
      {"s":16,"k":"r","d":"2015-06","v":32},{"s":16,"k":"r","d":"2015-08","v":22},{"s":16,"k":"r","d":"2015-10","v":12},
      {"s":16,"k":"r","d":"2015-12","v":10},{"s":16,"k":"r","d":"2016-02","v":-5},{"s":16,"k":"r","d":"2016-05","v":-5},
      {"s":17,"k":"g","d":"2016-05","v":-5},{"s":17,"k":"g","d":"2016-07","v":-5},{"s":17,"k":"g","d":"2016-09","v":5},
      {"s":17,"k":"g","d":"2016-12","v":8},{"s":17,"k":"g","d":"2017-03","v":20},{"s":17,"k":"g","d":"2017-05","v":50},
      {"s":17,"k":"g","d":"2017-08","v":96},{"s":17,"k":"g","d":"2017-11","v":121},{"s":17,"k":"g","d":"2018-01","v":129},
      {"s":18,"k":"r","d":"2018-01","v":129},{"s":18,"k":"r","d":"2018-03","v":119},{"s":18,"k":"r","d":"2018-06","v":121},
      {"s":18,"k":"r","d":"2018-08","v":81},{"s":18,"k":"r","d":"2018-10","v":61},{"s":18,"k":"r","d":"2018-12","v":5},
      {"s":18,"k":"r","d":"2019-03","v":-10},{"s":18,"k":"r","d":"2019-05","v":-15},{"s":18,"k":"r","d":"2019-07","v":-25},
      {"s":18,"k":"r","d":"2019-08","v":-61}
    ],
    "cross": [
      {"d":"2004-07","v":38,"k":"r"},{"d":"2004-12","v":40,"k":"g"},{"d":"2006-07","v":141,"k":"r"},
      {"d":"2007-05","v":119,"k":"g"},{"d":"2007-12","v":207,"k":"r"},{"d":"2009-07","v":-73,"k":"g"},
      {"d":"2011-08","v":141,"k":"r"},{"d":"2013-02","v":35,"k":"g"},{"d":"2013-06","v":35,"k":"r"},
      {"d":"2013-11","v":28,"k":"g"},{"d":"2014-01","v":22,"k":"r"},{"d":"2014-07","v":22,"k":"g"},
      {"d":"2014-10","v":18,"k":"r"},{"d":"2015-03","v":18,"k":"g"},{"d":"2015-08","v":22,"k":"r"},
      {"d":"2016-07","v":-5,"k":"g"},{"d":"2018-04-16","v":121,"k":"r"}
    ]
  },
  "vconcat": [
    {
      "width": 1920,
      "height": 19,
      "view": {"fill": "#ffffff", "stroke": null},
      "data": {"name": "head"},
      "mark": {"type": "text", "align": "left", "baseline": "alphabetic", "dy": 4.5, "font": "DejaVu Sans Mono", "fontSize": 14.5},
      "encoding": {
        "x": {"field": "i", "type": "quantitative", "scale": {"domain": [0, 220], "nice": false, "zero": false}, "axis": null},
        "text": {"field": "t"},
        "color": {"field": "ink", "type": "nominal", "scale": {"domain": ["k", "r"], "range": ["#111111", "#b71c1c"]}, "legend": null}
      }
    },
    {
      "width": 1869,
      "height": 730,
      "view": {"stroke": "#6b6b6b"},
      "encoding": {
        "x": {"field": "d", "type": "temporal",
              "scale": {"type": "utc", "domain": [{"year": 2004, "month": 1, "date": 17, "utc": true}, {"year": 2029, "month": 11, "date": 23, "utc": true}], "nice": false},
              "axis": null}
      },
      "layer": [
        {
          "data": {"name": "ohlc"},
          "mark": {"type": "rule", "strokeWidth": 1, "clip": true},
          "encoding": {
            "y": {"field": "l", "type": "quantitative", "scale": {"domain": [308.8, 2943.1], "nice": false, "zero": false},
                  "axis": {
                    "orient": "right", "title": null, "grid": false, "labels": false,
                    "values": [400, 500, 600, 700, 800, 900, 1000, 1100, 1200, 1300, 1400, 1500, 1600, 1700, 1800, 1900, 2000, 2100, 2200, 2300, 2400, 2500, 2600, 2700, 2800, 2900],
                    "domainColor": "#8a8a8a", "tickColor": "#8a8a8a", "tickSize": 5, "tickWidth": 1
                  }},
            "y2": {"field": "h"},
            "color": {"condition": {"test": "datum.c >= datum.o", "value": "#2f86e8"}, "value": "#e5393f"}
          }
        },
        {
          "data": {"name": "ohlc"},
          "mark": {"type": "bar", "size": 5, "clip": true},
          "encoding": {
            "y": {"field": "o", "type": "quantitative", "scale": {"domain": [308.8, 2943.1], "nice": false, "zero": false}, "axis": null, "stack": null},
            "y2": {"field": "c"},
            "color": {"condition": {"test": "datum.c >= datum.o", "value": "#2f86e8"}, "value": "#e5393f"}
          }
        },
        {
          "data": {"name": "bb"},
          "mark": {"type": "area", "color": "#6ab4c4", "opacity": 0.11, "clip": true},
          "encoding": {
            "y": {"field": "up", "type": "quantitative", "scale": {"domain": [308.8, 2943.1], "nice": false, "zero": false}, "axis": null, "stack": null},
            "y2": {"field": "lo"}
          }
        },
        {
          "data": {"name": "bb"},
          "mark": {"type": "line", "color": "#8f8f8f", "strokeWidth": 1, "clip": true},
          "encoding": {"y": {"field": "up", "type": "quantitative", "scale": {"domain": [308.8, 2943.1], "nice": false, "zero": false}, "axis": null}}
        },
        {
          "data": {"name": "bb"},
          "mark": {"type": "line", "color": "#2e9c9c", "strokeWidth": 1.2, "clip": true},
          "encoding": {"y": {"field": "mid", "type": "quantitative", "scale": {"domain": [308.8, 2943.1], "nice": false, "zero": false}, "axis": null}}
        },
        {
          "data": {"name": "bb"},
          "mark": {"type": "line", "color": "#8f8f8f", "strokeWidth": 1, "clip": true},
          "encoding": {"y": {"field": "lo", "type": "quantitative", "scale": {"domain": [308.8, 2943.1], "nice": false, "zero": false}, "axis": null}}
        },
        {
          "data": {"name": "fib"},
          "mark": {"type": "rect", "opacity": 0.2, "clip": true},
          "encoding": {
            "x2": {"field": "d2"},
            "y": {"field": "p0", "type": "quantitative", "scale": {"domain": [308.8, 2943.1], "nice": false, "zero": false}, "axis": null, "stack": null},
            "y2": {"field": "p"},
            "color": {"field": "lvl", "type": "nominal", "legend": null,
                      "scale": {"domain": ["0", "0.236", "0.382", "0.5", "0.618", "0.786", "1"], "range": ["#8c8c8c", "#c0392b", "#9acd32", "#32cd32", "#20c997", "#3ea0d0", "#8c8c8c"]}}
          }
        },
        {
          "data": {"name": "fib"},
          "mark": {"type": "rule", "strokeWidth": 1, "clip": true},
          "encoding": {
            "x2": {"field": "d2"},
            "y": {"field": "p", "type": "quantitative", "scale": {"domain": [308.8, 2943.1], "nice": false, "zero": false}, "axis": null},
            "color": {"field": "lvl", "type": "nominal", "legend": null,
                      "scale": {"domain": ["0", "0.236", "0.382", "0.5", "0.618", "0.786", "1"], "range": ["#9a9a9a", "#c0392b", "#9acd32", "#32cd32", "#20c997", "#3ea0d0", "#8c8c8c"]}}
          }
        },
        {
          "data": {"name": "arcs"},
          "mark": {"type": "arc", "theta": -1.5708, "theta2": 1.5708, "opacity": 0.2, "clip": true},
          "encoding": {
            "y": {"field": "p", "type": "quantitative", "scale": {"domain": [308.8, 2943.1], "nice": false, "zero": false}, "axis": null, "stack": null},
            "radius": {"field": "r", "type": "quantitative", "scale": {"type": "linear", "domain": [0, 4.618], "range": [0, 676.5], "zero": true}, "stack": null},
            "radius2": {"field": "r0"},
            "color": {"field": "lvl", "type": "nominal", "legend": null,
                      "scale": {"domain": ["0.236", "0.382", "0.5", "0.618", "0.786", "1", "1.618", "2.618", "3.618", "4.236", "4.618"],
                                "range": ["#e0453a", "#a8c432", "#3ec93e", "#2ec0a0", "#3a9ad0", "#9a9aa0", "#2434e0", "#c0503a", "#a040c8", "#d03aa0", "#c83090"]}}
          }
        },
        {
          "data": {"name": "arcs"},
          "mark": {"type": "arc", "theta": -1.5708, "theta2": 1.5708, "filled": false, "strokeWidth": 1.2, "opacity": 0.9, "clip": true},
          "encoding": {
            "y": {"field": "p", "type": "quantitative", "scale": {"domain": [308.8, 2943.1], "nice": false, "zero": false}, "axis": null, "stack": null},
            "radius": {"field": "r", "type": "quantitative", "scale": {"type": "linear", "domain": [0, 4.618], "range": [0, 676.5], "zero": true}, "stack": null},
            "radius2": {"field": "r"},
            "color": {"field": "lvl", "type": "nominal", "legend": null,
                      "scale": {"domain": ["0.236", "0.382", "0.5", "0.618", "0.786", "1", "1.618", "2.618", "3.618", "4.236", "4.618"],
                                "range": ["#e0453a", "#a8c432", "#3ec93e", "#2ec0a0", "#3a9ad0", "#9a9aa0", "#2434e0", "#c0503a", "#a040c8", "#d03aa0", "#c83090"]}}
          }
        },
        {
          "data": {"name": "arcs"},
          "mark": {"type": "text", "theta": 0, "align": "right", "baseline": "middle", "dx": -5, "fontSize": 12, "opacity": 0.8, "clip": true},
          "encoding": {
            "y": {"field": "p", "type": "quantitative", "scale": {"domain": [308.8, 2943.1], "nice": false, "zero": false}, "axis": null, "stack": null},
            "radius": {"field": "r", "type": "quantitative", "scale": {"type": "linear", "domain": [0, 4.618], "range": [0, 676.5], "zero": true}, "stack": null},
            "text": {"field": "lvl"},
            "color": {"field": "lvl", "type": "nominal", "legend": null,
                      "scale": {"domain": ["0.236", "0.382", "0.5", "0.618", "0.786", "1", "1.618", "2.618", "3.618", "4.236", "4.618"],
                                "range": ["#e0453a", "#a8c432", "#3ec93e", "#2ec0a0", "#3a9ad0", "#9a9aa0", "#2434e0", "#c0503a", "#a040c8", "#d03aa0", "#c83090"]}}
          }
        },
        {
          "data": {"name": "bands"},
          "mark": {"type": "rule", "strokeWidth": 5.7},
          "encoding": {
            "color": {"field": "k", "type": "nominal", "scale": {"domain": ["r", "g"], "range": ["#d41414", "#1f9a2a"]}, "legend": null},
            "opacity": {"field": "k", "type": "nominal", "scale": {"domain": ["r", "g"], "range": [0.62, 0.45]}, "legend": null}
          }
        },
        {
          "data": {"name": "diag"},
          "mark": {"type": "line", "color": "#9a9a9a", "strokeWidth": 1.2, "strokeDash": [6, 5], "clip": true},
          "encoding": {"y": {"field": "p", "type": "quantitative", "scale": {"domain": [308.8, 2943.1], "nice": false, "zero": false}, "axis": null}}
        },
        {
          "data": {"name": "trend"},
          "mark": {"type": "line", "color": "#ee1c1c", "strokeWidth": 3.8, "clip": true},
          "encoding": {
            "y": {"field": "p", "type": "quantitative", "scale": {"domain": [308.8, 2943.1], "nice": false, "zero": false}, "axis": null},
            "detail": {"field": "id"}
          }
        },
        {
          "data": {"name": "zig"},
          "mark": {"type": "line", "color": "#ffffff", "strokeWidth": 1.3, "clip": true},
          "encoding": {
            "y": {"field": "p", "type": "quantitative", "scale": {"domain": [308.8, 2943.1], "nice": false, "zero": false}, "axis": null},
            "order": {"field": "n"}
          }
        },
        {
          "data": {"name": "last"},
          "mark": {"type": "rule", "color": "#c8463a", "strokeDash": [2, 2], "strokeWidth": 1, "clip": true},
          "encoding": {
            "x2": {"field": "d2"},
            "y": {"field": "p", "type": "quantitative", "scale": {"domain": [308.8, 2943.1], "nice": false, "zero": false}, "axis": null}
          }
        },
        {
          "data": {"name": "last"},
          "mark": {"type": "rect", "color": "#c62828", "x2Offset": 51, "yOffset": -7, "y2Offset": 7},
          "encoding": {
            "x": {"value": "width"},
            "x2": {"value": "width"},
            "y": {"field": "p", "type": "quantitative", "scale": {"domain": [308.8, 2943.1], "nice": false, "zero": false}, "axis": null},
            "y2": {"field": "p"}
          }
        },
        {
          "data": {"name": "last"},
          "mark": {"type": "text", "align": "left", "baseline": "middle", "dx": 7, "color": "#ffffff", "font": "DejaVu Sans", "fontSize": 9, "fontWeight": "bold"},
          "encoding": {
            "x": {"value": "width"},
            "y": {"field": "p", "type": "quantitative", "scale": {"domain": [308.8, 2943.1], "nice": false, "zero": false}, "axis": null},
            "text": {"field": "p", "type": "quantitative", "format": ".2f"}
          }
        }
      ],
      "resolve": {"scale": {"color": "independent", "opacity": "independent"}}
    },
    {
      "width": 1869,
      "height": 136,
      "view": {"stroke": "#6b6b6b"},
      "encoding": {
        "x": {"field": "d", "type": "temporal",
              "scale": {"type": "utc", "domain": [{"year": 2004, "month": 1, "date": 17, "utc": true}, {"year": 2029, "month": 11, "date": 23, "utc": true}], "nice": false},
              "axis": {"orient": "bottom", "tickCount": "year", "labels": false, "tickSize": 5, "tickColor": "#8a8a8a", "domainColor": "#8a8a8a", "grid": false, "title": null}}
      },
      "layer": [
        {
          "data": {"name": "hist"},
          "mark": {"type": "bar", "size": 3.6, "clip": true},
          "encoding": {
            "y": {"field": "h", "type": "quantitative", "scale": {"domain": [-156.7, 255.4], "nice": false, "zero": false}, "stack": null,
                  "axis": {"orient": "right", "values": [-100, 0, 100, 200], "labels": false, "tickSize": 5, "tickColor": "#8a8a8a", "domainColor": "#8a8a8a", "grid": false, "title": null}},
            "color": {"field": "k", "type": "nominal", "legend": null,
                      "scale": {"domain": ["c", "b", "r", "d"], "range": ["#22c3d6", "#1717c4", "#e01010", "#7d0000"]}}
          }
        },
        {
          "data": {"name": "signal"},
          "mark": {"type": "line", "color": "#c9b200", "strokeWidth": 1.6, "clip": true},
          "encoding": {"y": {"field": "v", "type": "quantitative", "scale": {"domain": [-156.7, 255.4], "nice": false, "zero": false}, "axis": null}}
        },
        {
          "data": {"name": "macd"},
          "mark": {"type": "line", "strokeWidth": 4, "strokeCap": "round", "strokeJoin": "round", "clip": true},
          "encoding": {
            "y": {"field": "v", "type": "quantitative", "scale": {"domain": [-156.7, 255.4], "nice": false, "zero": false}, "axis": null},
            "detail": {"field": "s"},
            "color": {"field": "k", "type": "nominal", "legend": null, "scale": {"domain": ["g", "r"], "range": ["#18c418", "#d00000"]}}
          }
        },
        {
          "data": {"name": "cross"},
          "mark": {"type": "point", "filled": true, "size": 70, "opacity": 1, "clip": true},
          "encoding": {
            "y": {"field": "v", "type": "quantitative", "scale": {"domain": [-156.7, 255.4], "nice": false, "zero": false}, "axis": null},
            "color": {"field": "k", "type": "nominal", "legend": null, "scale": {"domain": ["g", "r"], "range": ["#2ae02a", "#f02020"]}}
          }
        }
      ],
      "resolve": {"scale": {"color": "independent"}}
    }
  ]
}
